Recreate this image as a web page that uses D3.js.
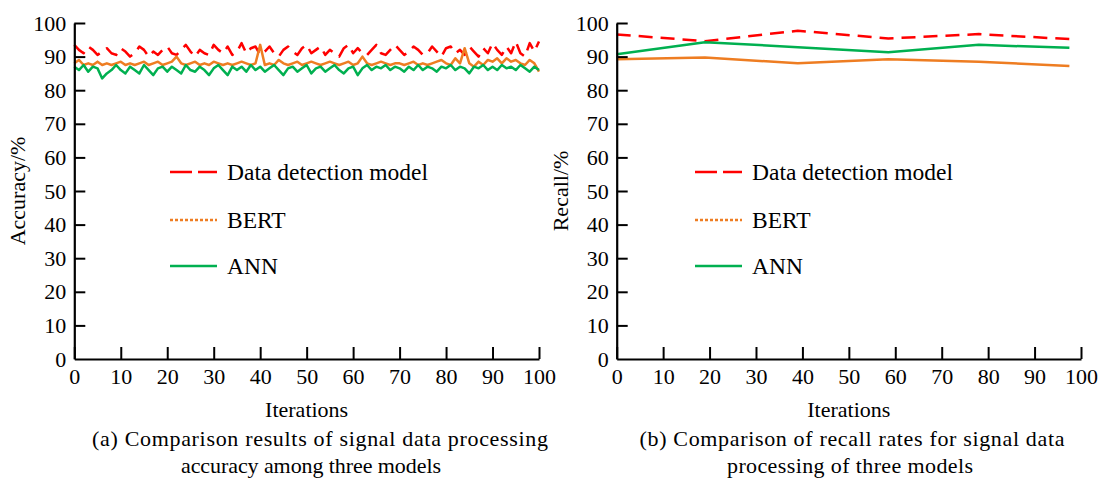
<!DOCTYPE html>
<html><head><meta charset="utf-8">
<script src="https://cdn.jsdelivr.net/npm/d3@7"></script>
</head><body style="margin:0;background:#fff">
<svg id="c" width="1099" height="479"></svg>
<script>
const seriesNames = ["Data detection model", "BERT", "ANN"];
const colors = ["#ff0000", "#ee7d22", "#00b050"];
const xTicks = [0,10,20,30,40,50,60,70,80,90,100];
const yTicks = [0,10,20,30,40,50,60,70,80,90,100];

const accIterations = d3.range(0, 101);
const accDetection = [93.5,92,91,93,92,90.5,91.5,92.5,91,90.5,92.5,91.5,90,91,93,92,90,91.5,90.5,92,93,91,90.5,92,93.5,91.5,90,92,91,90.5,93.5,92,91,93,90.5,91.5,94,91,92.5,93,90.5,91.5,93,91,90,92,93,91.5,90.5,92.5,93.5,91,92,93,90.5,92,91,90,92.5,93.5,91,92.5,91,90.5,92,93.5,91,90.5,92,93.5,92,90.5,91.5,93,92,90.5,91,93,91.5,90,92.5,93,91,92,90.5,93,91.5,90,92.5,91,94,92,90.5,93,91,94.5,91,90,94,91.5,94.5];
const accBERT = [88,89,87.5,88,87.5,88.5,87.5,88,87.5,88,88.5,87.5,88,87.5,88,88.5,87.5,88,88.5,87.5,88,88.5,90,88,87.5,88,88.5,87.5,88,87.5,88.5,88,87.5,88,87.5,88,88.5,88,87.5,88,93.5,87.5,88,87.5,89,88,87.5,88,88.5,87.5,88,88.5,88,87.5,88,88.5,88,87.5,88,88.5,87.5,88,90,88,87.5,88,88.5,88,87.5,88,88,87.5,88,88.5,87.5,88,87.5,88,88.5,89,88,87.5,89.5,88,92.5,88,87,88.5,87.5,89,88.5,89.5,88,89.5,88.5,89,88,87.5,89,88,85.5];
const accANN = [87,86,87.5,85.5,87,86.5,83.5,85,86,87.5,86,85,87,86,85,87.5,86,84.5,86.5,87,85.5,87,86,85,87.5,86,85.5,87,86,84.5,86.5,87.5,86,84.5,87,86,87,85.5,87.5,86,87,85.5,86.5,87.5,86,84.5,86.5,87,85.5,86.5,87.5,85,86.5,87,85.5,86.5,87.5,86,85,86.5,87,84.5,86.5,87.5,86,87,86.5,87.5,86,87,86.5,85.5,87,86,87.5,86,87,86.5,85.5,87,86.5,87.5,86,87,86.5,85,87,86.5,87.5,86,87,86,87.5,86.5,87,86,87.5,86.5,85.5,87,86];

const recIterations = [0, 19, 39, 58.5, 78, 97.5];
const recDetection = [96.6, 94.6, 97.7, 95.4, 96.7, 95.2];
const recBERT = [89.2, 89.7, 88.0, 89.2, 88.5, 87.2];
const recANN = [90.7, 94.3, 92.8, 91.3, 93.5, 92.6];

const FONT = "Liberation Serif";
const svg = d3.select("#c");
const y = d3.scaleLinear().domain([0,100]).range([359,23]);

function txt(g, x, yy, s, anchor, size) {
  return g.append("text").attr("x",x).attr("y",yy).attr("text-anchor",anchor||"start")
    .style("font-family",FONT).style("font-size",(size||22)+"px").style("fill","#000").text(s);
}

function panel(x0, x1, xs, series, yLabel, captionLines, captionCenters, captionLens, legendX) {
  const x = d3.scaleLinear().domain([0,100]).range([x0,x1]);
  const g = svg.append("g");
  const dashes = ["14,8", null, null];
  series.forEach((vals, i) => {
    const line = d3.line().x((d,j)=>x(xs[j])).y(d=>y(d));
    g.append("path").datum(vals).attr("d", line).attr("fill","none")
      .attr("stroke", colors[i]).attr("stroke-width", 2.5)
      .attr("stroke-linejoin","round")
      .attr("stroke-dasharray", dashes[i]);
  });
  const ax = g.append("g").attr("transform",`translate(0,${y(0)})`)
    .call(d3.axisBottom(x).tickValues(xTicks).tickSizeInner(-12).tickSizeOuter(0).tickPadding(8));
  const ay = g.append("g").attr("transform",`translate(${x0},0)`)
    .call(d3.axisLeft(y).tickValues(yTicks).tickSizeInner(-11).tickSizeOuter(0).tickPadding(8));
  [ax, ay].forEach(a => {
    a.select(".domain").attr("stroke","#000").attr("stroke-width",2.2);
    a.selectAll(".tick line").attr("stroke","#000").attr("stroke-width",2);
    a.selectAll(".tick text").style("font-family",FONT).style("font-size","22px").style("fill","#000");
  });
  ax.selectAll(".tick text").attr("dy","0.75em");
  ay.selectAll(".tick line").filter(d=>d===0).remove();
  txt(g, (x0+x1)/2, 417, "Iterations", "middle");
  txt(g, 0, 0, yLabel, "middle").attr("transform",`translate(${x0-49},191) rotate(-90)`);
  captionLines.forEach((t,k)=>{
    txt(g, captionCenters[k], 446+k*27, t, "middle")
      .attr("textLength", captionLens[k]).attr("lengthAdjust","spacing");
  });
  const ly = [172, 220, 266];
  const ldash = ["22,6", "3,2", null];
  seriesNames.forEach((n,i)=>{
    g.append("line").attr("x1",legendX).attr("x2",legendX+47).attr("y1",ly[i]).attr("y2",ly[i])
      .attr("stroke",colors[i]).attr("stroke-width",2.4).attr("stroke-dasharray", ldash[i]);
    txt(g, legendX+57, ly[i], n, "start", 23.5).attr("dy","0.35em");
  });
}

panel(74.3, 539, accIterations, [accDetection, accBERT, accANN], "Accuracy/%",
  ["(a) Comparison results of signal data processing", "accuracy among three models"],
  [320, 311], [456, 260], 170);
panel(616.7, 1081, recIterations, [recDetection, recBERT, recANN], "Recall/%",
  ["(b) Comparison of recall rates for signal data", "processing of three models"],
  [852, 850], [425, 246], 695);
</script>
</body></html>
